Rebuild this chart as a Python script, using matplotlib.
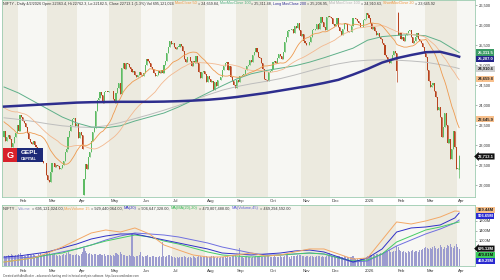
import numpy as np
import pandas as pd
import matplotlib
matplotlib.use('Agg')
import matplotlib.pyplot as plt
from matplotlib.patches import Rectangle

plt.rcParams['font.family'] = ['Liberation Sans', 'DejaVu Sans']

W, H = 500, 280

# ---------------- data ----------------
month_labels = ['', 'Feb', 'Mar', 'Apr', 'May', 'Jun', 'Jul', 'Aug', 'Sep',
                'Oct', 'Nov', 'Dec', '2026', 'Feb', 'Mar', 'Apr']

# closes before the first visible bar, only used for the short averages
hist_close = [24199, 24148, 24141, 23883, 23559, 23532, 23453, 23518, 23349, 23907,
              24221, 24194, 24274, 23914, 24131,
              24276, 24457, 24467, 24708, 24677, 24619, 24610, 24641, 24548, 24768,
              24668, 24336, 24198, 23952, 23587, 23753, 23727, 23750, 23813, 23645, 23644,
              23742, 24188, 24005, 23616, 23708, 23689, 23527, 23432, 23086, 23176,
              23213, 23312, 23203]

close_jan25 = [23350, 23100, 23200, 23250, 23150, 22950, 23050, 23200, 23300, 23500]
close_feb25 = [23361, 23739, 23696, 23603, 23560, 23450, 23300, 23150, 23080, 23031,
               23100, 22990, 22945, 22933, 22900, 22796, 22600, 22547, 22545, 22250]
close_mar25 = [22119, 22083, 22337, 22545, 22553, 22460, 22498, 22471, 22397, 22420,
               22509, 22600, 22834, 22907, 23191, 23350, 23500, 23658, 23668, 23487, 23519]
close_apr25 = [23165, 23332, 23250, 22904, 22162, 22536, 22399, 22700, 22829, 23100,
               23328, 23437, 23852, 24125, 24167, 24329, 24247, 24039, 24328, 24336, 24334, 24350]
close_may25 = [24340, 24347, 24150, 24050, 24300, 24414, 24550, 24273, 24925, 25050,
               24900, 25062, 25020, 24945, 24900, 24813, 24853, 24750, 24700, 24752, 24834, 24751]
close_jun25 = [24716, 24800, 25000, 25150, 25103, 25050, 24950, 24888, 24800, 24719,
               24750, 24853, 24812, 24880, 24793, 25000, 25112, 25300, 25449, 25600, 25517]
close_jul25 = [25542, 25453, 25405, 25461, 25461, 25523, 25476, 25355, 25150, 25082,
               25196, 25212, 25112, 24968, 25091, 25061, 25220, 25062, 24837, 24681,
               24821, 24855, 24768]
close_aug25 = [24565, 24723, 24650, 24574, 24596, 24363, 24585, 24487, 24619, 24631,
               24700, 24877, 24981, 25051, 25084, 24870, 24968, 24712, 24600, 24501, 24427]
close_sep25 = [24625, 24580, 24716, 24734, 24741, 24773, 24869, 24973, 25006, 25114,
               25069, 25239, 25330, 25424, 25327, 25203, 25170, 25057, 24891, 24655, 24635, 24611]
close_oct25 = [24837, 24860, 24894, 25078, 25108, 25046, 25182, 25285, 25227, 25146,
               25324, 25586, 25710, 25843, 25869, 25880, 25892, 25795, 25966, 25936,
               26054, 25878, 25722]
close_nov25 = [25763, 25598, 25550, 25510, 25492, 25574, 25695, 25876, 25880, 25910,
               26013, 25910, 26052, 26192, 26068, 25960, 25885, 26205, 26216, 26203]
close_dec25 = [26175, 26032, 25986, 26033, 26186, 25961, 25840, 25758, 25898, 26047,
               26027, 25860, 25818, 25815, 25966, 26172, 26177, 26142, 26100, 26042,
               25942, 25938, 26130]
close_jan26 = [26150, 26300, 26250, 26180, 26050, 25900, 25950, 25850, 25750, 25800,
               25700, 25650, 25550, 25500, 25250, 25200, 25100, 25050, 25150, 25250, 25350, 25300]
close_feb26 = [24850, 25750, 25800, 25650, 25700, 25600, 25750, 25800, 25850, 25880,
               25700, 25550, 25600, 25700, 25800, 25650, 25600, 25550, 25450, 25300]
close_mar26 = [25200, 24875, 24600, 24450, 24500, 24550, 24350, 24200, 23875, 23950,
               23700, 23200, 23450, 23800, 23500, 23050, 23150, 22650, 22900, 23350, 22950, 22400]
close_apr26 = [22420, 22713.1]

# opens follow the previous close except where the chart shows a gap
open_fix = {55: 21758, 271: 26300, 313: 22363.4}
high_fix = {271: 26330, 313: 22762.3}
low_fix = {55: 21743, 270: 24575, 313: 22182.5}

vol_jan25 = [420, 380, 400, 450, 390, 470, 430, 410, 440, 460]
vol_feb25 = [480, 520, 430, 410, 390, 420, 500, 470, 440, 460,
             480, 430, 400, 420, 470, 510, 450, 420, 480, 620]
vol_mar25 = [560, 520, 480, 450, 430, 470, 440, 420, 460, 410,
             440, 480, 450, 520, 560, 500, 470, 440, 460, 430, 480]
vol_apr25 = [430, 410, 470, 560, 720, 600, 540, 480, 520, 470,
             450, 500, 480, 430, 460, 490, 450, 430, 470, 420, 440, 460]
vol_may25 = [430, 410, 450, 400, 520, 470, 440, 560, 480, 440,
             460, 420, 400, 430, 410, 1300, 390, 380, 420, 410, 430, 560]
vol_jun25 = [420, 380, 400, 390, 430, 380, 360, 400, 420, 370,
             350, 380, 400, 360, 960, 390, 380, 410, 440, 440, 400]
vol_jul25 = [380, 350, 340, 360, 330, 370, 350, 380, 400, 360,
             340, 350, 370, 330, 390, 360, 340, 380, 400, 420, 380, 360, 410]
vol_aug25 = [400, 380, 360, 370, 390, 410, 350, 340, 360, 330,
             350, 370, 380, 360, 340, 390, 380, 360, 420, 440, 460]
vol_sep25 = [380, 360, 720, 380, 350, 340, 360, 390, 370, 350,
             340, 360, 380, 400, 370, 420, 390, 380, 360, 400, 420, 440]
vol_oct25 = [400, 380, 360, 370, 390, 350, 370, 380, 400, 360,
             380, 420, 430, 440, 380, 300, 390, 410, 420, 400, 430, 460, 440]
vol_nov25 = [420, 400, 380, 410, 390, 370, 400, 420, 380, 360,
             390, 400, 410, 380, 420, 360, 380, 400, 440, 520]
vol_dec25 = [420, 400, 390, 380, 410, 420, 400, 380, 360, 390,
             370, 360, 340, 350, 380, 400, 320, 300, 280, 260, 280, 300, 320]
vol_jan26 = [340, 380, 400, 420, 440, 460, 430, 450, 480, 500,
             470, 520, 540, 560, 580, 620, 600, 640, 580, 560, 620, 600]
vol_feb26 = [820, 760, 640, 600, 580, 620, 560, 540, 600, 580,
             620, 640, 560, 600, 620, 580, 640, 660, 700, 720]
vol_mar26 = [760, 720, 680, 740, 700, 760, 800, 720, 680, 740,
             860, 780, 700, 760, 720, 840, 800, 880, 760, 720, 800, 900]
vol_apr26 = [760, 695.12]
vol_ticks = [1000, 1400, 1800]

# slow averages, sampled every 10 bars (last point = last bar)
ma_idx = list(range(0, 311, 10)) + [313]
ma200 = [23960, 23980, 24000, 24020, 24040, 24060, 24070, 24075, 24080, 24080,
         24080, 24085, 24095, 24110, 24130, 24160, 24200, 24250, 24300, 24360,
         24420, 24480, 24550, 24630, 24760, 24900, 25060, 25170, 25250, 25320,
         25330, 25240, 25207]
ma_mov = [24450, 24300, 24100, 23900, 23700, 23550, 23450, 23430, 23480, 23600,
          23700, 23800, 23950, 24120, 24300, 24480, 24650, 24780, 24860, 24920,
          24980, 25070, 25180, 25300, 25420, 25620, 25710, 25740, 25760, 25730,
          25600, 25380, 25311]
ma_mid = [23680, 23640, 23590, 23530, 23480, 23450, 23440, 23480, 23560, 23660,
          23760, 23870, 23990, 24120, 24250, 24370, 24460, 24530, 24590, 24660,
          24750, 24850, 24950, 25030, 25090, 25120, 25130, 25120, 25100, 25070,
          25010, 24940, 24910]

# volume averages (own scale), millions, same sampling
vma_orange = [253, 280, 307, 373, 453, 547, 640, 680, 653, 707, 627, 480, 413, 347, 320,
              320, 347, 373, 333, 347, 387, 427, 427, 360, 293, 307, 547, 787, 760, 800,
              853, 933, 929]
vma_blue = [320, 333, 360, 387, 440, 493, 560, 600, 627, 627, 587, 547, 507, 467, 427,
            373, 360, 347, 360, 373, 400, 413, 387, 320, 253, 307, 427, 653, 707, 720,
            747, 840, 906]
vma_green = [253, 280, 307, 347, 373, 427, 480, 533, 573, 613, 587, 533, 493, 440, 387,
             347, 333, 320, 333, 347, 360, 373, 360, 307, 267, 280, 360, 520, 600, 680,
             720, 773, 787]
vma_violet = [307, 307, 320, 347, 387, 427, 480, 547, 600, 640, 627, 613, 587, 547, 507,
              453, 413, 373, 347, 347, 360, 373, 360, 307, 253, 267, 360, 467, 547, 627,
              693, 773, 813]

closes_by_month = [close_jan25, close_feb25, close_mar25, close_apr25, close_may25,
                   close_jun25, close_jul25, close_aug25, close_sep25, close_oct25,
                   close_nov25, close_dec25, close_jan26, close_feb26, close_mar26, close_apr26]
vol_by_month = [vol_jan25, vol_feb25, vol_mar25, vol_apr25, vol_may25, vol_jun25,
                vol_jul25, vol_aug25, vol_sep25, vol_oct25, vol_nov25, vol_dec25,
                vol_jan26, vol_feb26, vol_mar26, vol_apr26]

for c, v in zip(closes_by_month, vol_by_month):
    assert len(c) == len(v), (len(c), len(v))

close = np.array(sum(closes_by_month, []), dtype=float)
volume = np.array(sum(vol_by_month, []), dtype=float)
n = len(close)
x = np.arange(n)
month_start = np.cumsum([0] + [len(m) for m in closes_by_month[:-1]])

open_ = np.r_[hist_close[-1], close[:-1]]
for i, v in open_fix.items():
    open_[i] = v
high = np.maximum(open_, close)
low = np.minimum(open_, close)
for i, v in high_fix.items():
    high[i] = v
for i, v in low_fix.items():
    low[i] = v

full = pd.Series(hist_close + list(close))
ma20 = full.rolling(20).mean().to_numpy()[len(hist_close):]
ma50 = full.rolling(50).mean().to_numpy()[len(hist_close):]

# ---------------- figure ----------------
fig = plt.figure(figsize=(5, 2.8), dpi=100)
fig.patch.set_facecolor('white')
ax = fig.add_axes([2 / W, 83 / H, 473 / W, 197 / H])
vax = fig.add_axes([2 / W, 14 / H, 473 / W, 61 / H])

xmin, xmax = -1.4, 323.9
spine_col = '#9CCBB0'
band_a, band_b = '#ECEADF', '#F7F7F3'

for a in (ax, vax):
    a.set_xlim(xmin, xmax)
    a.set_facecolor(band_b)
    for k in range(len(month_start)):
        x0 = xmin if k == 0 else month_start[k] - 0.5
        x1 = month_start[k + 1] - 0.5 if k + 1 < len(month_start) else xmax
        a.axvspan(x0, x1, color=band_a if k % 2 == 0 else band_b, lw=0, zorder=0)
    for s in a.spines.values():
        s.set_color(spine_col)
        s.set_linewidth(0.6)
    a.tick_params(axis='x', bottom=False, labelbottom=False)

# candles
up_col, dn_col = '#5DBB63', '#B8431E'
cols = np.where(close >= open_, up_col, dn_col)
ax.vlines(x, low, high, colors=cols, lw=0.5, zorder=2)
body = np.maximum(np.abs(close - open_), 14)
ax.bar(x, body, bottom=np.minimum(open_, close), width=0.75, color=cols, lw=0, zorder=2)

# moving averages
ax.plot(ma_idx, ma_mid, color='#BDBDBD', lw=0.7, zorder=3)
ax.plot(ma_idx, ma_mov, color='#5FB08A', lw=0.7, zorder=3)
ax.plot(x, ma50, color='#F3B88F', lw=0.6, zorder=3)
ax.plot(x, ma20, color='#EE9A4F', lw=0.6, zorder=3)
ax.plot(ma_idx, ma200, color='#2E2E8E', lw=1.8, zorder=4)

ax.set_ylim(21700, 26625)
yt = np.arange(22000, 26501, 500)
ax.set_yticks(yt)
ax.set_yticklabels([f'{v:,}' for v in yt])

# volume
vax.bar(x, volume, width=0.7, color='#9C9CCF', lw=0, zorder=2)
vax.set_ylim(0, 2440)
vt = vax.twinx()
vt.set_ylim(200, 1013)
vt.set_xlim(xmin, xmax)
vt.set_yticks([])
for s in vt.spines.values():
    s.set_visible(False)
vt.plot(ma_idx, vma_violet, color='#6F6FE0', lw=0.7)
vt.plot(ma_idx, vma_green, color='#45CC66', lw=0.7)
vt.plot(ma_idx, vma_blue, color='#3030C8', lw=0.7)
vt.plot(ma_idx, vma_orange, color='#F3A866', lw=0.7)

vax.set_yticks(vol_ticks)
vax.set_yticklabels([f'{v}M' for v in vol_ticks])
for a in (ax, vax):
    a.yaxis.tick_right()
    a.tick_params(axis='y', left=False, right=True, labelleft=False, labelright=True,
                  length=1.5, width=0.4, pad=1.5, colors='#777777',
                  labelcolor='#333333', labelsize=2.9)

# month labels under both panes
for k, lab in enumerate(month_labels):
    if not lab:
        continue
    ax.text(month_start[k] + 0.4, -3.8 / 197, lab, transform=ax.get_xaxis_transform(),
            fontsize=3.1, ha='left', va='center', color='#333333')
    vax.text(month_start[k] + 0.4, -4.7 / 61, lab, transform=vax.get_xaxis_transform(),
             fontsize=3.1, ha='left', va='center', color='#333333')

# ---------------- value tags on the right ----------------
def place_tags(axis, items, gap=6.3):
    pts = []
    for val, txt, fc, tc, style in items:
        ypx = H - axis.transData.transform((0, val))[1]
        pts.append([ypx, txt, fc, tc, style])
    pts.sort(key=lambda p: p[0])
    for i in range(1, len(pts)):
        if pts[i][0] - pts[i - 1][0] < gap:
            pts[i][0] = pts[i - 1][0] + gap
    for ypx, txt, fc, tc, style in pts:
        fig.text(477.5 / W, 1 - ypx / H, txt, fontsize=3.0, color=tc, ha='left', va='center',
                 fontweight='bold',
                 bbox=dict(boxstyle=style, fc=fc, ec='none'), zorder=5)

place_tags(ax, [
    (25311.5, '25,311.5', '#3A9A64', 'white', 'square,pad=0.25'),
    (25207.0, '25,207.0', '#24248A', 'white', 'square,pad=0.25'),
    (24910.6, '24,910.6', '#CFCFCF', '#222222', 'square,pad=0.25'),
    (24659.8, '24,659.8', '#F8C08C', '#222222', 'square,pad=0.25'),
    (23645.9, '23,645.9', '#F8C08C', '#222222', 'square,pad=0.25'),
    (22713.1, '22,713.1', '#111111', 'white', 'larrow,pad=0.25'),
])
fig.canvas.draw()
place_tags(vt, [
    (945, '929.44M', '#F8C08C', '#222222', 'square,pad=0.25'),
    (906.6, '906.65M', '#2A2AD0', 'white', 'square,pad=0.25'),
])
place_tags(vax, [
    (695.1, '695.12M', '#111111', 'white', 'larrow,pad=0.25'),
    (470.8, '470.81M', '#3CCB5C', '#111111', 'square,pad=0.25'),
    (469.3, '469.29M', '#2A2AD0', 'white', 'square,pad=0.25'),
])

# ---------------- header / footer texts ----------------
def text_run(x_px, y_px, pieces, size):
    r = fig.canvas.get_renderer()
    probe = fig.text(0, 0, 'x x', fontsize=size)
    w2 = probe.get_window_extent(r).width
    probe.set_text('xx')
    sw = w2 - probe.get_window_extent(r).width
    probe.remove()
    for s, c in pieces:
        core = s.strip(' ')
        x_px += sw * (len(s) - len(s.lstrip(' ')))
        t = fig.text(x_px / W, 1 - y_px / H, core, fontsize=size, color=c,
                     ha='left', va='center', zorder=5)
        x_px += t.get_window_extent(r).width + sw * (len(s) - len(s.rstrip(' ')))

dark = '#333333'
text_run(3, 3.5, [
    ('NIFTY - Daily 4/2/2026 Open 22363.4, Hi 22762.3, Lo 22182.5, Close 22713.1 (1.3%) '
     'Vol 695,121,024 ', dark),
    ('MovClose 50', '#F0973F'), (' = 24,659.84, ', dark),
    ('MovMovClose 100', '#4FAE7E'), (' = 25,311.48, ', dark),
    ('Long MovClose 200', '#2B2B90'), (' = 25,206.95, ', dark),
    ('Mid MovClose 100', '#B5B5B5'), (' = 24,910.63, ', dark),
    ('ShortMovClose 20', '#F0973F'), (' = 23,645.92', dark),
], 2.72)

text_run(3, 208.5, [
    ('NIFTY - ', dark), ('Volume', '#9090C8'), (' = 695,121,024.00, ', dark),
    ('MovVolume 15', '#F0A050'), (' = 929,440,064.00, ', dark),
    ('MA(20)', '#3030C8'), (' = 906,647,328.00, ', dark),
    ('MA(MA(20),20)', '#33BB55'), (' = 470,807,488.00, ', dark),
    ('MA(Volume,45)', '#6060D8'), (' = 469,294,592.00', dark),
], 2.8)

fig.text(3 / W, 1 - 275.5 / H,
         'Created with AmiBroker - advanced charting and technical analysis software. '
         'http://www.amibroker.com', fontsize=2.1, color='#444444', ha='left', va='center')

# ---------------- logo ----------------
def frect(x0, y0, x1, y1, fc):
    fig.add_artist(Rectangle((x0 / W, 1 - y1 / H), (x1 - x0) / W, (y1 - y0) / H,
                             transform=fig.transFigure, fc=fc, ec='none', zorder=4))

frect(3, 148, 17, 162, '#D7202A')
frect(17, 148, 43, 162, '#1E2A78')
fig.text(10 / W, 1 - 155 / H, 'G', fontsize=6.5, fontweight='bold', color='white',
         ha='center', va='center', zorder=5)
fig.text(21 / W, 1 - 152.5 / H, 'GEPL', fontsize=4.6, fontweight='bold', color='white',
         ha='left', va='center', zorder=5)
fig.text(21 / W, 1 - 158.5 / H, 'CAPITAL', fontsize=2.7, fontweight='bold', color='white',
         ha='left', va='center', zorder=5)

fig.savefig('out.png', dpi=100)
